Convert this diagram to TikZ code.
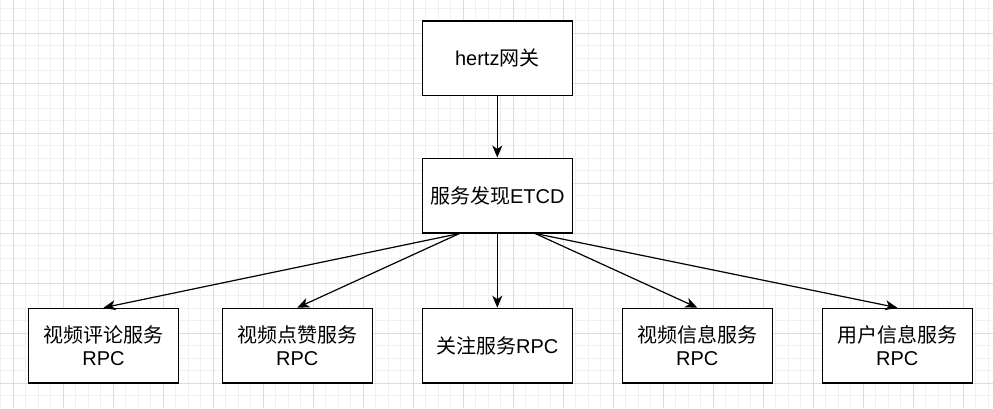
\documentclass[tikz,border=0pt]{standalone}
\usepackage{fontspec}
\setmainfont{Liberation Sans}
\newfontfamily\cjk{Noto Sans CJK SC}
\usetikzlibrary{arrows.meta,calc}
\definecolor{gridminor}{HTML}{F0F0F0}
\definecolor{gridmajor}{HTML}{DCDCDC}
\tikzset{
  box/.style={draw=black, line width=1pt, fill=white, minimum width=112.5pt, minimum height=56pt, inner sep=0pt, align=center, font=\fontsize{15pt}{17.5pt}\selectfont},
  conn/.style={draw=black, line width=0.9pt, -{Stealth[length=9pt,width=7.5pt,inset=2.6pt]}}
}
\begin{document}
\begin{tikzpicture}[x=0.75pt,y=-0.75pt]
\useasboundingbox (0,0) rectangle (993,408);
\fill[white] (0,0) rectangle (993,408);
% minor grid
\foreach \i in {0,...,79} { \draw[gridminor, line width=0.75pt] ({0.8+12.5*\i},0) -- ({0.8+12.5*\i},408); }
\foreach \i in {0,...,31} { \draw[gridminor, line width=0.75pt] (0,{8.3+12.5*\i}) -- (993,{8.3+12.5*\i}); }
% major grid
\foreach \i in {0,...,19} { \draw[gridmajor, line width=0.75pt] ({13.3+50*\i},0) -- ({13.3+50*\i},408); }
\foreach \i in {0,...,7} { \draw[gridmajor, line width=0.75pt] (0,{33.3+50*\i}) -- (993,{33.3+50*\i}); }

\node[box] (gw) at (497.3,58.2) {hertz{\cjk 网关}};
\node[box] (etcd) at (497.3,195.5) {{\cjk 服务发现}ETCD};
\node[box] (b1) at (103.5,345.7) {{\cjk 视频评论服务}\\RPC};
\node[box] (b2) at (297.3,345.7) {{\cjk 视频点赞服务}\\RPC};
\node[box] (b3) at (497.3,345.7) {{\cjk 关注服务}RPC};
\node[box] (b4) at (697.3,345.7) {{\cjk 视频信息服务}\\RPC};
\node[box] (b5) at (897.3,345.7) {{\cjk 用户信息服务}\\RPC};

\coordinate (eL) at ($(etcd.south west)!0.25!(etcd.south east)$);
\coordinate (eR) at ($(etcd.south west)!0.75!(etcd.south east)$);

\draw[conn] (gw) -- (etcd);
\draw[conn] (eL) -- (b1.north);
\draw[conn] (eL) -- (b2.north);
\draw[conn] (etcd) -- (b3);
\draw[conn] (eR) -- (b4.north);
\draw[conn] (eR) -- (b5.north);
\end{tikzpicture}
\end{document}
